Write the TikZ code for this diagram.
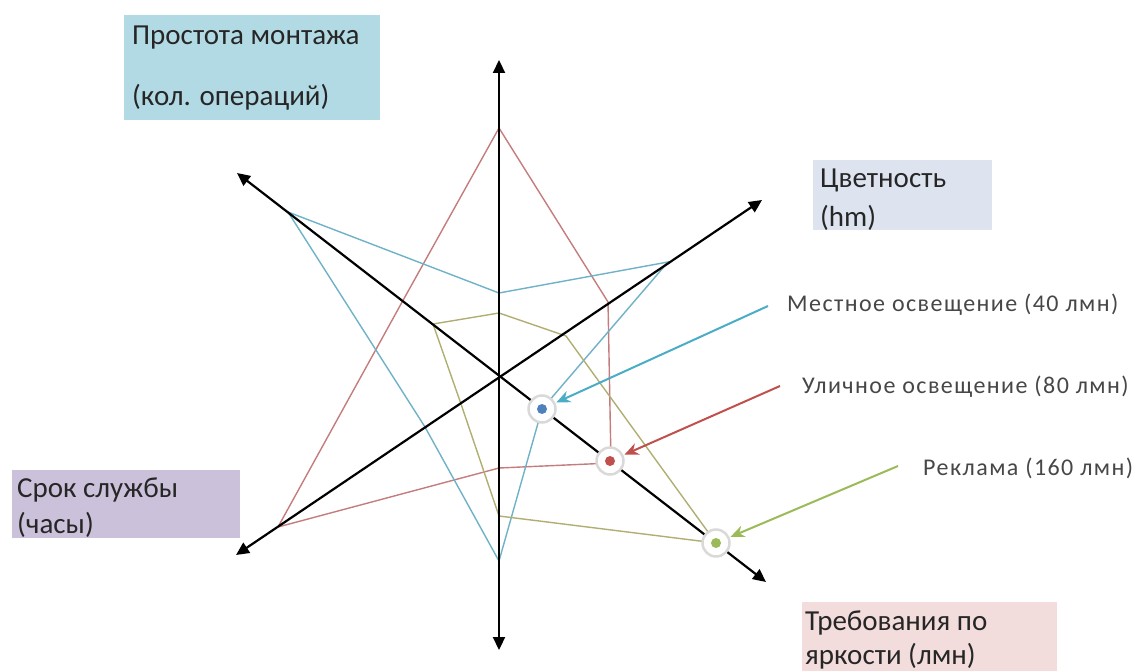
\documentclass[tikz,border=0pt]{standalone}
\usepackage{fontspec}
\setmainfont{Carlito}
\usetikzlibrary{arrows.meta}

\definecolor{boxTop}{HTML}{B2DAE4}
\definecolor{boxColor}{HTML}{DDE4F0}
\definecolor{boxLife}{HTML}{CCC1DA}
\definecolor{boxBright}{HTML}{F2DCDC}
\definecolor{lnBlue}{HTML}{6FB2C8}
\definecolor{lnRed}{HTML}{C47C7C}
\definecolor{lnGreen}{HTML}{B0AE72}
\definecolor{arBlue}{HTML}{4BACC6}
\definecolor{arRed}{HTML}{C0504D}
\definecolor{arGreen}{HTML}{9BBB59}
\definecolor{dtBlue}{HTML}{4F81BD}
\definecolor{txt}{HTML}{262626}

\begin{document}
\begin{tikzpicture}[x=1pt,y=-1pt,
  boxlbl/.style={inner sep=0pt, anchor=base west, text=txt, font=\fontsize{29}{33}\selectfont},
  calllbl/.style={inner sep=0pt, anchor=base west, text=txt!85, font=\addfontfeatures{LetterSpace=6}\fontsize{24}{28}\selectfont},
  axis/.style={line width=2.2pt, black, {Triangle[length=13pt,width=12pt]}-{Triangle[length=13pt,width=12pt]}},
  series/.style={line width=1.4pt, line join=miter},
  dotring/.style={circle, minimum size=27pt, inner sep=0pt, fill=white, draw=black!15, line width=2.5pt},
  callout/.style={line width=2pt, -{Stealth[length=14pt,width=12pt]}, shorten >=1pt}]
\useasboundingbox (0,0) rectangle (1134,671);

% shaded caption boxes
\fill[boxTop] (124,15) rectangle (380,120);
\fill[boxColor] (813,160) rectangle (992,230);
\fill[boxLife] (12,470) rectangle (240,538);
\fill[boxBright] (802,602) rectangle (1057,671);

% caption texts
\node[boxlbl] (capTop1) at (132,45) {Простота монтажа};
\node[boxlbl] (capTop2) at (132,106) {(кол. операций)};
\node[boxlbl] (capCol1) at (820,188) {Цветность};
\node[boxlbl] (capCol2) at (820,226) {(hm)};
\node[boxlbl] (capLife1) at (17,497) {Срок службы};
\node[boxlbl] (capLife2) at (17,533) {(часы)};
\node[boxlbl] (capBr1) at (805,630) {Требования по};
\node[boxlbl] (capBr2) at (805,664) {яркости (лмн)};

% axis end points
\coordinate (O) at (499,377);
\coordinate (aN) at (499,60);
\coordinate (aS) at (499,650);
\coordinate (aNE) at (762,200);
\coordinate (aSW) at (236,555);
\coordinate (aNW) at (237,173);
\coordinate (aSE) at (766,582);

% series: street lighting
\coordinate (rN) at (499,128);
\coordinate (rNE) at (608,302);
\coordinate (rSE) at (611,463);
\coordinate (rS) at (499,468);
\coordinate (rSW) at (278,527);
\coordinate (rNW) at (401,304);
\draw[series, lnRed] (rN) -- (rNE) -- (rSE) -- (rS) -- (rSW) -- (rNW) -- cycle;

% series: local lighting
\coordinate (bN) at (499,293);
\coordinate (bNE) at (668,262);
\coordinate (bSE) at (542,409);
\coordinate (bS) at (499,561);
\coordinate (bSW) at (425,427);
\coordinate (bNW) at (288,212);
\draw[series, lnBlue] (bN) -- (bNE) -- (bSE) -- (bS) -- (bSW) -- (bNW) -- cycle;

% series: advertising
\coordinate (gN) at (499,313);
\coordinate (gNE) at (566,336);
\coordinate (gSE) at (716,543);
\coordinate (gS) at (499,516);
\coordinate (gSW) at (461,404);
\coordinate (gNW) at (433,324);
\draw[series, lnGreen] (gN) -- (gNE) -- (gSE) -- (gS) -- (gSW) -- (gNW) -- cycle;

% axes
\draw[axis] (aS) -- (aN);
\draw[axis] (aSW) -- (aNE);
\draw[axis] (aNW) -- (aSE);

% markers on the brightness axis
\node[dotring] (dB) at (542,409) {};
\fill[dtBlue] (dB.center) circle (5);
\node[dotring] (dR) at (610,461) {};
\fill[arRed] (dR.center) circle (5);
\node[dotring] (dG) at (716,543) {};
\fill[arGreen] (dG.center) circle (5);

% legend labels
\node[calllbl] (lB) at (787,311) {Местное освещение (40 лмн)};
\node[calllbl] (lR) at (802,393) {Уличное освещение (80 лмн)};
\node[calllbl] (lG) at (923,475) {Реклама (160 лмн)};

% pointers from the labels to the markers
\coordinate (cB) at (768,306);
\coordinate (cR) at (780,386);
\coordinate (cG) at (898,466);
\draw[callout, arBlue] (cB) -- (dB);
\draw[callout, arRed] (cR) -- (dR);
\draw[callout, arGreen] (cG) -- (dG);
\end{tikzpicture}
\end{document}
